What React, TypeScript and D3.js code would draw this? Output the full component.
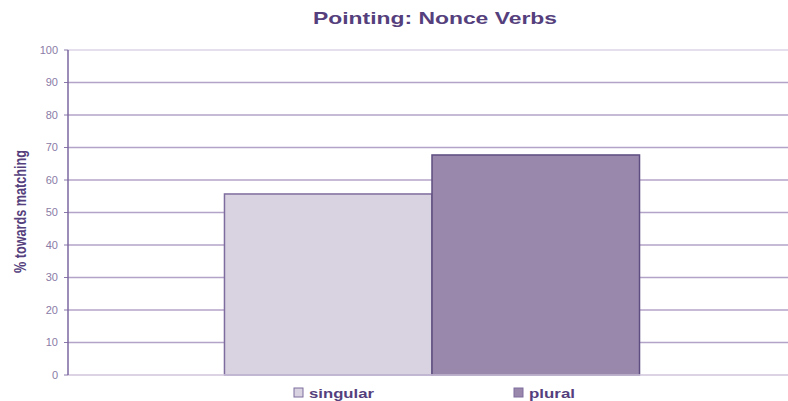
import React from "react";
import * as d3 from "d3";

const categories = ["Nonce Verbs"];
const seriesNames = ["singular", "plural"];
const singularValues = [55.7];
const pluralValues = [67.7];
const yTicks = [0, 10, 20, 30, 40, 50, 60, 70, 80, 90, 100];

const W = 788, H = 401;
const m = { left: 68, right: -8, top: 50, bottom: 26 };

export default function App() {
  const x0 = d3.scaleBand().domain(categories).range([m.left, W - m.right]).paddingInner(0).paddingOuter(0.377);
  const x1 = d3.scaleBand().domain(seriesNames).range([0, x0.bandwidth()]);
  const y = d3.scaleLinear().domain([0, 100]).range([H - m.bottom, m.top]);
  const colors = ["#d9d3e1", "#9988ab"];
  const strokes = ["#7e6c9e", "#5e4d80"];
  const values = [singularValues, pluralValues];
  const font = "Arial, 'Liberation Sans', sans-serif";
  const legendLen = [65, 46];
  return (
    <svg width={W} height={H} style={{ position: "absolute", left: 0, top: 0, background: "#fff" }}>
      <text x={313} y={24} fontFamily={font} fontWeight="bold" fontSize={17} fill="#553f7d"
        textLength={244} lengthAdjust="spacingAndGlyphs">
        Pointing: Nonce Verbs
      </text>
      {yTicks.map((t) => (
        <g key={t}>
          {t > 0 && (
            <line x1={m.left} x2={W} y1={y(t)} y2={y(t)} stroke={t === 100 ? "#dcd3e6" : "#b3a3c8"} strokeWidth={1.5} />
          )}
          <line x1={m.left - 4} x2={m.left} y1={y(t)} y2={y(t)} stroke="#8a78aa" strokeWidth={1} />
          <text x={m.left - 10} y={y(t)} dy="0.35em" textAnchor="end" fontFamily={font} fontSize={11} fill="#8a7ca6">
            {t}
          </text>
        </g>
      ))}
      {categories.map((c, ci) =>
        seriesNames.map((s, si) => (
          <rect
            key={c + s}
            x={(x0(c) ?? 0) + (x1(s) ?? 0)}
            y={y(values[si][ci])}
            width={x1.bandwidth()}
            height={y(0) - y(values[si][ci])}
            fill={colors[si]}
            stroke={strokes[si]}
            strokeWidth={1.5}
          />
        ))
      )}
      <line x1={m.left} x2={W} y1={y(0)} y2={y(0)} stroke="#d0c6dc" strokeWidth={1.5} />
      <line x1={m.left} x2={m.left} y1={y(100)} y2={y(0)} stroke="#7a66a0" strokeWidth={1.5} />
      <text
        transform={`translate(26,${273}) rotate(-90)`}
        fontFamily="'Liberation Sans Narrow', Arial, sans-serif"
        fontWeight="bold"
        fontSize={16}
        fill="#553f7d"
        textLength={123}
        lengthAdjust="spacingAndGlyphs"
      >
        % towards matching
      </text>
      {seriesNames.map((s, si) => {
        const lx = si === 0 ? 294 : 514;
        return (
          <g key={s}>
            <rect x={lx} y={388} width={9} height={9} fill={colors[si]} stroke="#7e6c9e" strokeWidth={1} />
            <text x={lx + 15} y={398} fontFamily={font} fontWeight="bold" fontSize={13} fill="#553f7d"
              textLength={legendLen[si]} lengthAdjust="spacingAndGlyphs">
              {s}
            </text>
          </g>
        );
      })}
    </svg>
  );
}
